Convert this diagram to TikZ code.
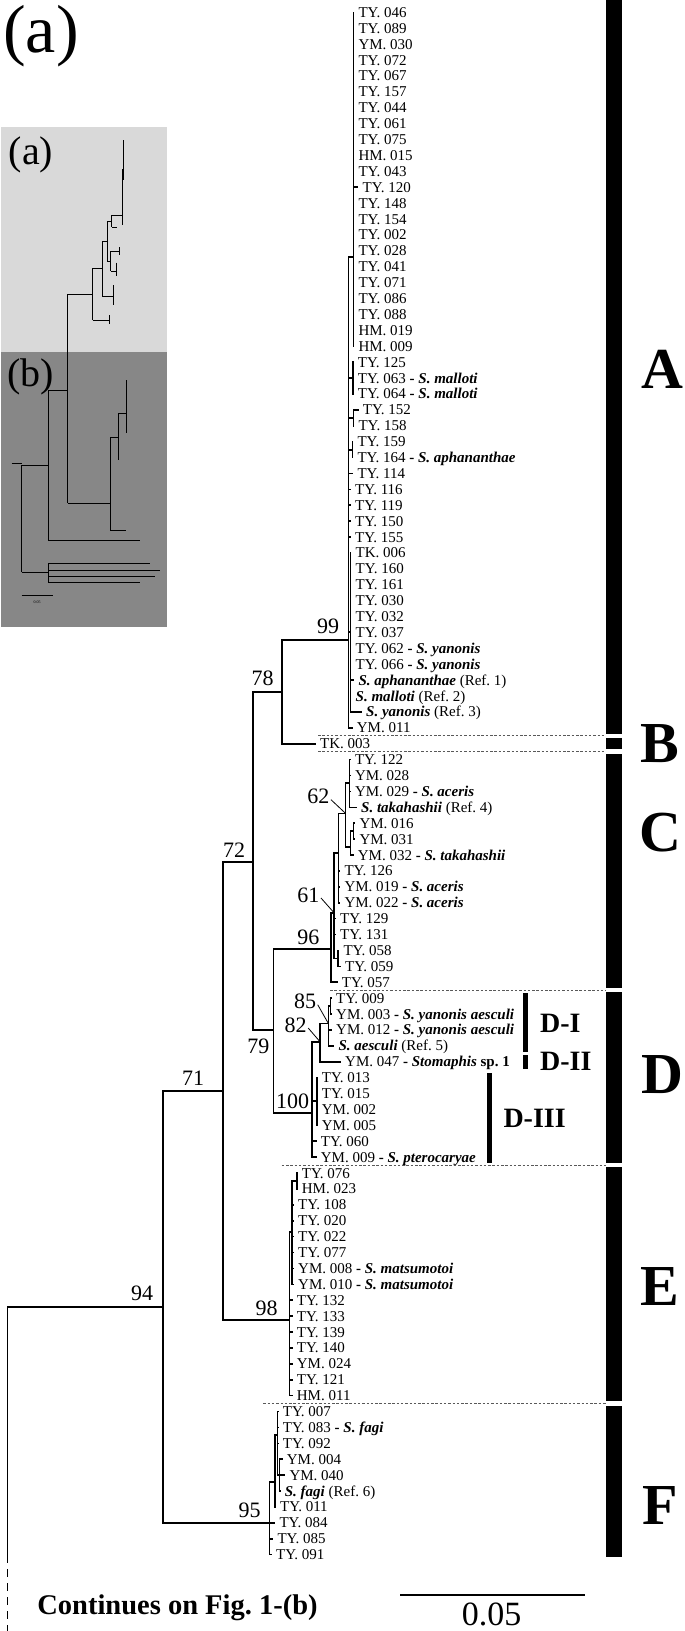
\documentclass[tikz,border=0pt]{standalone}
\usepackage{fontspec}
\setmainfont{Liberation Serif}
\usetikzlibrary{positioning}
\frenchspacing
\newcommand{\taxon}[1]{\textbf{- \textit{#1}}}
\newcommand{\reftaxon}[2]{\textbf{\textit{#1}} (Ref. #2)}
\definecolor{insetlight}{gray}{0.85}
\definecolor{insetdark}{gray}{0.53}

\begin{document}
\begin{tikzpicture}[x=1pt,y=-1pt]
\tikzstyle{branch}=[line width=1.6pt,line cap=rect]
\tikzstyle{leaf}=[anchor=base west,inner sep=0pt,font=\fontsize{15}{16}\selectfont]
\tikzstyle{boot}=[inner sep=0pt,font=\fontsize{22}{24}\selectfont]
\tikzstyle{clade}=[inner sep=0pt,font=\fontsize{58}{60}\selectfont\bfseries]
\tikzstyle{subclade}=[anchor=west,inner sep=0pt,font=\fontsize{28}{30}\selectfont\bfseries]
\tikzstyle{cladesep}=[black!65,line width=0.8pt,dash pattern=on 2.5pt off 1.8pt]
\tikzstyle{mini}=[line width=0.9pt]
\useasboundingbox (0,0) rectangle (685,1631);

\fill[insetlight] (1,127) rectangle (167,352);
\fill[insetdark] (1,352) rectangle (167,627);
\node[inner sep=0pt,font=\fontsize{40}{42}\selectfont] (insa) at (31,155) {(a)};
\node[inner sep=0pt,font=\fontsize{40}{42}\selectfont] (insb) at (31,377) {(b)};
\node[inner sep=0pt,font=\fontsize{68}{70}\selectfont] (panel) at (41,36) {(a)};
\draw[mini] (67.7,294) -- (92.7,294) (92.7,268) -- (92.7,320) (92.7,268) -- (102.4,268)
  (102.4,241) -- (102.4,296) (102.4,241) -- (107.2,241) (107.2,221) -- (107.2,261)
  (107.2,221) -- (111.9,221) (111.9,215) -- (111.9,227) (111.9,215) -- (122.6,215)
  (122.6,169) -- (122.6,225) (122.6,169) -- (123.3,169) (123.3,140) -- (123.3,180)
  (111.9,227) -- (117.2,227) (107.2,261) -- (110.5,261) (110.5,251) -- (110.5,271)
  (110.5,251) -- (119.8,251) (119.8,247) -- (119.8,255.4) (110.5,271) -- (116.7,271)
  (116.7,262.5) -- (116.7,276.2) (102.4,296) -- (113.1,296) (113.1,285) -- (113.1,304.6)
  (92.7,320) -- (109.9,320) (109.9,315) -- (109.9,323.6);
\draw[mini] (67.7,294) -- (67.7,503) (48.3,390) -- (67.7,390) (67.7,503) -- (110,503)
  (110,437) -- (110,530) (110,437) -- (118.3,437) (118.3,413) -- (118.3,460)
  (118.3,413) -- (126.7,413) (126.7,380) -- (126.7,433) (110,530) -- (126,530)
  (48.3,390) -- (48.3,540) (48.3,540) -- (140,540) (21.7,465) -- (48.3,465)
  (11.7,463) -- (21.7,463) (21.7,465) -- (21.7,572) (21.7,572) -- (48.3,572)
  (48.3,563) -- (48.3,582) (48.3,563) -- (150,563) (48.3,570) -- (160,570)
  (48.3,576) -- (155,576) (48.3,582) -- (140,582);
\draw[mini] (21.7,595) -- (53.3,595);
\node[inner sep=0pt,font=\fontsize{4}{4}\selectfont] (minisc) at (37,602) {0.05};

\coordinate (root) at (7.5,1307);
\coordinate (rootend) at (7.5,1555);
\coordinate (rootcut) at (7.5,1631);
\coordinate (n94) at (163,1307);
\coordinate (n71) at (222.7,1091);
\coordinate (n72) at (252.7,862);
\coordinate (n78) at (282,692);
\coordinate (n99) at (348.6,640);
\coordinate (nA1) at (353.3,256.7);
\coordinate (nA3) at (350.5,632);
\coordinate (nA4) at (352.7,378);
\coordinate (nA5) at (353.3,418);
\coordinate (nA6) at (352.3,450);
\coordinate (n79) at (273.3,1030);
\coordinate (n96) at (331,949);
\coordinate (n61) at (334,912.7);
\coordinate (nC2) at (338.3,853);
\coordinate (n62) at (345.5,813.3);
\coordinate (nC4) at (349.5,783);
\coordinate (nC5) at (350.5,847);
\coordinate (nC6) at (353.5,831);
\coordinate (nC3) at (338,958.3);
\coordinate (n100) at (311.7,1112.7);
\coordinate (n82) at (320,1041.7);
\coordinate (n85) at (328.3,1023.3);
\coordinate (nD1) at (330.5,1006);
\coordinate (nD3) at (316.7,1101);
\coordinate (n98) at (289.3,1320);
\coordinate (nE1) at (291.7,1232);
\coordinate (nE2) at (296.7,1181);
\coordinate (n95) at (269.3,1523);
\coordinate (nF1) at (275,1481.7);
\coordinate (nF0) at (277.3,1435);
\coordinate (nF3) at (279.3,1475);

\foreach \i/\p/\tx/\txt in {
  1/nA1/353.3/{TY. 046}, 2/nA1/353.3/{TY. 089}, 3/nA1/353.3/{YM. 030}, 4/nA1/353.3/{TY. 072},
  5/nA1/353.3/{TY. 067}, 6/nA1/353.3/{TY. 157}, 7/nA1/353.3/{TY. 044}, 8/nA1/353.3/{TY. 061},
  9/nA1/353.3/{TY. 075}, 10/nA1/353.3/{HM. 015}, 11/nA1/353.3/{TY. 043}, 12/nA1/357.5/{TY. 120},
  13/nA1/353.3/{TY. 148}, 14/nA1/353.3/{TY. 154}, 15/nA1/353.3/{TY. 002}, 16/nA1/353.3/{TY. 028},
  17/nA1/353.3/{TY. 041}, 18/nA1/353.3/{TY. 071}, 19/nA1/353.3/{TY. 086}, 20/nA1/353.3/{TY. 088},
  21/nA1/353.3/{HM. 019}, 22/nA1/353.3/{HM. 009},
  23/nA4/352.7/{TY. 125}, 24/nA4/352.7/{TY. 063 \taxon{S. malloti}}, 25/nA4/352.7/{TY. 064 \taxon{S. malloti}},
  26/nA5/357.7/{TY. 152}, 27/nA5/353.3/{TY. 158},
  28/nA6/352.3/{TY. 159}, 29/nA6/352.3/{TY. 164 \taxon{S. aphananthae}},
  30/n99/352.3/{TY. 114}, 31/n99/350/{TY. 116}, 32/n99/350/{TY. 119}, 33/n99/350/{TY. 150}, 34/n99/350/{TY. 155},
  35/nA3/350.5/{TK. 006}, 36/nA3/350.5/{TY. 160}, 37/nA3/350.5/{TY. 161}, 38/nA3/350.5/{TY. 030},
  39/nA3/350.5/{TY. 032}, 40/nA3/350.5/{TY. 037}, 41/nA3/350.5/{TY. 062 \taxon{S. yanonis}},
  42/nA3/350.5/{TY. 066 \taxon{S. yanonis}}, 43/nA3/353.3/{\reftaxon{S. aphananthae}{1}},
  44/nA3/350.5/{\reftaxon{S. malloti}{2}}, 45/nA3/361/{\reftaxon{S. yanonis}{3}},
  46/n99/351.7/{YM. 011},
  47/n78/315/{TK. 003},
  48/nC4/349.8/{TY. 122}, 49/nC4/349.8/{YM. 028}, 50/nC4/349.8/{YM. 029 \taxon{S. aceris}},
  51/nC4/356/{\reftaxon{S. takahashii}{4}}, 52/nC6/354.3/{YM. 016}, 53/nC6/354.3/{YM. 031},
  54/nC5/352.7/{YM. 032 \taxon{S. takahashii}}, 55/nC2/339.3/{TY. 126},
  56/nC2/339.3/{YM. 019 \taxon{S. aceris}}, 57/nC2/339.3/{YM. 022 \taxon{S. aceris}},
  58/n61/335/{TY. 129}, 59/n61/335/{TY. 131}, 60/nC3/338.3/{TY. 058}, 61/nC3/340/{TY. 059},
  62/n96/336.7/{TY. 057},
  63/nD1/331/{TY. 009}, 64/nD1/331/{YM. 003 \taxon{S. yanonis aesculi}},
  65/n85/331/{YM. 012 \taxon{S. yanonis aesculi}}, 66/n85/333.3/{\reftaxon{S. aesculi}{5}},
  67/n82/340/{YM. 047 \textbf{- \textit{Stomaphis} sp. 1}},
  68/nD3/316.7/{TY. 013}, 69/nD3/316.7/{TY. 015}, 70/nD3/316.7/{YM. 002}, 71/nD3/316.7/{YM. 005},
  72/n100/315.7/{TY. 060}, 73/n100/315.7/{YM. 009 \taxon{S. pterocaryae}},
  74/nE2/296.7/{TY. 076}, 75/nE2/296.7/{HM. 023}, 76/nE1/293/{TY. 108}, 77/nE1/293/{TY. 020},
  78/nE1/293/{TY. 022}, 79/nE1/293/{TY. 077}, 80/nE1/293/{YM. 008 \taxon{S. matsumotoi}},
  81/nE1/293/{YM. 010 \taxon{S. matsumotoi}}, 82/n98/291.7/{TY. 132}, 83/n98/291.7/{TY. 133},
  84/n98/291.7/{TY. 139}, 85/n98/291.7/{TY. 140}, 86/n98/291.7/{YM. 024}, 87/n98/291.7/{TY. 121},
  88/n98/291.7/{HM. 011},
  89/nF0/277.7/{TY. 007}, 90/nF0/277.7/{TY. 083 \taxon{S. fagi}}, 91/nF0/277.7/{TY. 092},
  92/nF3/281.7/{YM. 004}, 93/nF3/284.3/{YM. 040}, 94/nF3/279.7/{\reftaxon{S. fagi}{6}},
  95/nF1/275/{TY. 011}, 96/n95/274.3/{TY. 084}, 97/n95/272.3/{TY. 085}, 98/n95/271/{TY. 091}}
{
  \pgfmathsetmacro\yy{12.3+15.9*(\i-1)}
  \coordinate (t\i) at (\tx,\yy);
  \node[leaf] (l\i) at ([xshift=5pt,yshift=-5pt]t\i) {\txt};
  \draw[branch] (\p |- t\i) -- (t\i);
}

\foreach \n/\a/\b in {n94/n71/n95, n71/n72/n98, n72/n78/n79, n78/n99/t47, n99/nA1/t46,
  nA1/t1/t22, nA4/t23/t25, nA5/t26/t27, nA6/t28/t29, nA3/t35/t45, n79/n96/n100,
  n96/n61/t62, n61/nC2/nC3, nC2/n62/t57, n62/nC4/nC5, nC4/t48/t51, nC5/nC6/t54,
  nC6/t52/t53, nC3/t60/t61, n100/n82/t73, n82/n85/t67, n85/nD1/t66, nD1/t63/t64,
  nD3/t68/t71, n98/nE1/t88, nE1/nE2/t81, nE2/t74/t75, n95/nF1/t98, nF1/nF0/t95,
  nF0/t89/nF3, nF3/t92/t94}
  \draw[branch] (\n |- \a) -- (\n |- \b);

\foreach \p/\c in {root/n94, n94/n71, n94/n95, n71/n72, n71/n98, n72/n78, n72/n79,
  n78/n99, n99/nA1, n99/nA3, n99/nA4, n99/nA5, n99/nA6, n79/n96, n79/n100, n96/n61,
  n61/nC2, n61/nC3, nC2/n62, n62/nC4, n62/nC5, nC5/nC6, n100/n82, n100/nD3,
  n82/n85, n85/nD1, n98/nE1, nE1/nE2, n95/nF1, nF1/nF0, nF0/nF3}
  \draw[branch] (\p |- \c) -- (\c);

\draw[branch] (root) -- (rootend);
\draw[line width=1.8pt,dash pattern=on 8pt off 6pt] (rootend) -- (rootcut);

\node[boot] (b99) at (328,626.7) {99};
\node[boot] (b78) at (262.5,678) {78};
\node[boot] (b72) at (234,850) {72};
\node[boot] (b62) at (318.3,796.7) {62};
\node[boot] (b61) at (308.3,895) {61};
\node[boot] (b96) at (308.3,937.5) {96};
\node[boot] (b85) at (305,1001.7) {85};
\node[boot] (b82) at (295.5,1025) {82};
\node[boot] (b79) at (258.3,1046.7) {79};
\node[boot] (b100) at (292.5,1101.7) {100};
\node[boot] (b71) at (193,1078) {71};
\node[boot] (b98) at (266.7,1308.3) {98};
\node[boot] (b94) at (142,1293) {94};
\node[boot] (b95) at (249.7,1510.8) {95};
\draw[line width=0.8pt] ([shift={(1.5,3)}]b62.east) -- (n62);
\draw[line width=0.8pt] ([shift={(1.5,3)}]b61.east) -- (n61);
\draw[line width=0.8pt] ([shift={(1.5,3)}]b85.east) -- (n85);
\draw[line width=0.8pt] ([shift={(1.5,3)}]b82.east) -- (n82);

\foreach \y/\xs in {735.7/318, 751.6/318, 990.1/330, 1165.1/281.7, 1403.5/263.3}
  \draw[cladesep] (\xs,\y) -- (606,\y);
\fill (606,0) rectangle (621.5,733.5);
\fill (606,738) rectangle (621.5,749.4);
\fill (606,753.8) rectangle (621.5,987.9);
\fill (606,992.3) rectangle (621.5,1162.9);
\fill (606,1167.3) rectangle (621.5,1401.3);
\fill (606,1405.7) rectangle (621.5,1557);
\node[clade] (cA) at (662,369) {A};
\node[clade] (cB) at (660,744) {B};
\node[clade] (cC) at (660,833) {C};
\node[clade] (cD) at (662,1075) {D};
\node[clade] (cE) at (660,1286) {E};
\node[clade] (cF) at (660,1505) {F};

\fill (523.3,993.3) rectangle (527.8,1051.7);
\fill (523.3,1055) rectangle (527.8,1069.3);
\fill (486.7,1073.3) rectangle (491.5,1163.3);
\node[subclade] (dI) at (540,1023.3) {D-I};
\node[subclade] (dII) at (540,1061.7) {D-II};
\node[subclade] (dIII) at (503.3,1118.3) {D-III};

\coordinate (sb1) at (400,1595);
\coordinate (sb2) at (585,1595);
\draw[line width=1.2pt] (sb1) -- (sb2);
\node[inner sep=0pt,font=\fontsize{34}{36}\selectfont] (sblab) at (491.7,1614.5) {0.05};
\node[inner sep=0pt,font=\fontsize{28.5}{30}\selectfont\bfseries] (cont) at (177.5,1608) {Continues on Fig. 1-(b)};
\end{tikzpicture}
\end{document}
